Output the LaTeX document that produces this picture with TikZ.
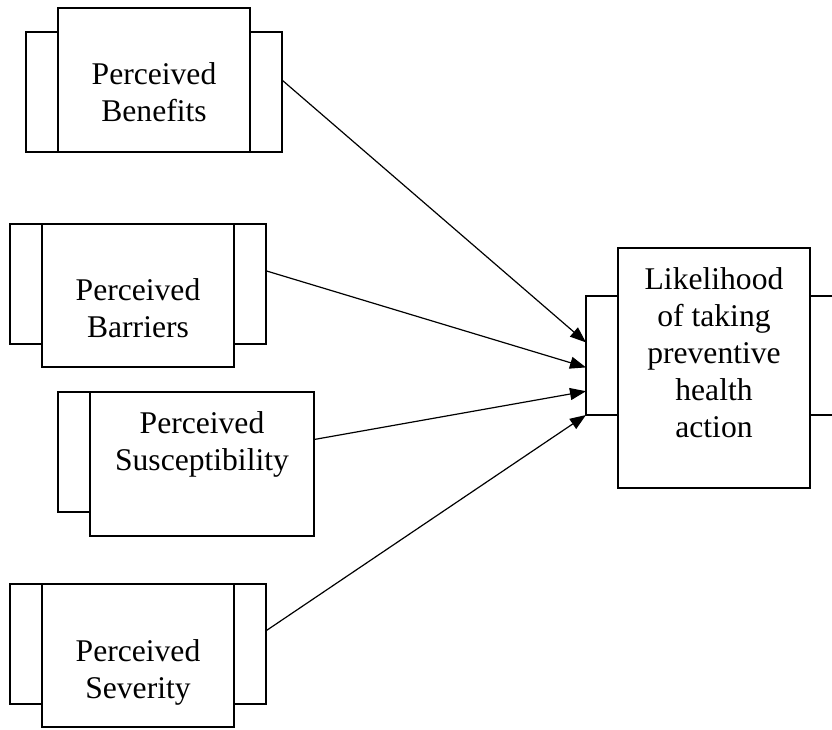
\documentclass[tikz,border=0pt]{standalone}
\usepackage{fontspec}
\setmainfont{Liberation Serif}
\usepackage{tikz}
\usetikzlibrary{arrows.meta, calc}

\tikzset{
  tab/.style={draw, line width=0.9pt, inner sep=0pt, outer sep=0pt,
    minimum width=128pt, minimum height=60pt},
  comp/.style={draw, fill=white, line width=0.9pt, inner sep=0pt, outer sep=0pt},
  lbl/.style={align=center, anchor=north, inner sep=0pt,
    font=\fontsize{15.8}{18.5}\selectfont},
  link/.style={-{Triangle[length=8pt,width=6pt]}, line width=0.6pt},
}

\begin{document}
\begin{tikzpicture}[x=0.5pt, y=-0.5pt]
  \useasboundingbox (0,0) rectangle (832,730);

  % side tabs first, boxes on top
  \node[tab] (ben-tab) at (154,92) {};
  \node[comp, minimum width=96pt, minimum height=72pt] (ben) at (154,80) {};
  \node[lbl, yshift=-27pt] (ben-txt) at (ben.north) {Perceived\\Benefits};

  \node[tab] (bar-tab) at (138,284) {};
  \node[comp, minimum width=96pt, minimum height=71.5pt] (bar) at (138,295.5) {};
  \node[lbl, yshift=-27pt] (bar-txt) at (bar.north) {Perceived\\Barriers};

  \node[tab] (sus-tab) at (186,452) {};
  \node[comp, minimum width=112pt, minimum height=72pt] (sus) at (202,464) {};
  \node[lbl, yshift=-9.5pt] (sus-txt) at (sus.north) {Perceived\\Susceptibility};

  \node[tab] (sev-tab) at (138,644) {};
  \node[comp, minimum width=96pt, minimum height=71.5pt] (sev) at (138,655.5) {};
  \node[lbl, yshift=-27.5pt] (sev-txt) at (sev.north) {Perceived\\Severity};

  \node[tab, minimum height=59.5pt] (lik-tab) at (714,355.5) {};
  \node[comp, minimum width=96pt, minimum height=120pt] (lik) at (714,368) {};
  \node[lbl, yshift=-9.5pt] (lik-txt) at (lik.north)
    {Likelihood\\of taking\\preventive\\health\\action};

  \path[link]
    ($(ben-tab.north east)!0.40!(ben-tab.south east)$) edge
    ($(lik-tab.north west)!0.39!(lik-tab.south west)$)
    ($(bar-tab.north east)!0.39!(bar-tab.south east)$) edge
    ($(lik-tab.north west)!0.60!(lik-tab.south west)$)
    ($(sus.north east)!0.33!(sus.south east)$) edge
    ($(lik-tab.north west)!0.80!(lik-tab.south west)$)
    ($(sev-tab.north east)!0.39!(sev-tab.south east)$) edge
    (lik-tab.south west);
\end{tikzpicture}
\end{document}
